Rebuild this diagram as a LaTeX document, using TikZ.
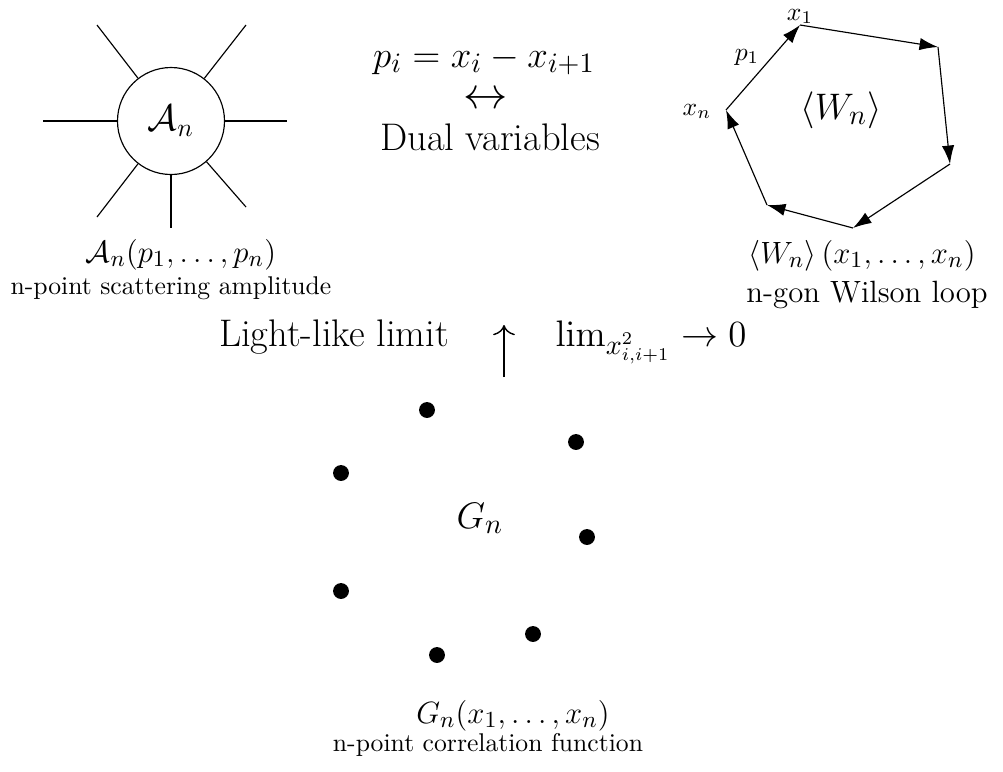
\documentclass[tikz,border=0pt]{standalone}
\usetikzlibrary{arrows.meta}
\begin{document}
\begin{tikzpicture}[x=0.39pt,y=-0.39pt,
  leg/.style={line width=0.45pt},
  wl/.style={line width=0.45pt,-{Latex[length=7.2pt,width=4.8pt]}},
  dot/.style={circle,fill=black,inner sep=0pt,minimum size=6.2pt},
  small/.style={inner sep=0pt,anchor=base,font=\normalsize},
  big/.style={inner sep=0pt,anchor=base,font=\fontsize{15}{18}\selectfont}]
\useasboundingbox (0,0) rectangle (1003,771);
% scattering amplitude blob
\node[draw,circle,minimum size=107*0.39pt,inner sep=0pt,line width=0.45pt] (A) at (171,121) {\Large$\mathcal{A}_n$};
\coordinate (l1) at (43,121);
\coordinate (l2) at (97,25);
\coordinate (l3) at (246,25);
\coordinate (l4) at (287,121);
\coordinate (l5) at (246,207);
\coordinate (l6) at (171,228);
\coordinate (l7) at (97,217);
\foreach \i in {1,...,7} \draw[leg] (A) -- (l\i);
\node[big,font=\fontsize{12.3}{15}\selectfont] (Alab) at (181,262) {$\mathcal{A}_n(p_1,\ldots,p_n)$};
\node[small] (Atxt) at (171,294) {n-point scattering amplitude};
% dual variables
\node[big] (dual1) at (484,67) {$p_i=x_i-x_{i+1}$};
\node[big,font=\fontsize{18.7}{22}\selectfont] (dual2) at (486,108) {$\leftrightarrow$};
\node[big] (dual3) at (490,150) {Dual variables};
% Wilson loop
\coordinate (w1) at (800,25);
\coordinate (w2) at (938,47);
\coordinate (w3) at (950,164);
\coordinate (w4) at (853,228);
\coordinate (w5) at (767,205);
\coordinate (w6) at (726,110);
\draw[wl] (w6) -- (w1);
\draw[wl] (w1) -- (w2);
\draw[wl] (w2) -- (w3);
\draw[wl] (w3) -- (w4);
\draw[wl] (w4) -- (w5);
\draw[wl] (w5) -- (w6);
\node[small] (x1) at (800,20) {$x_1$};
\node[small] (p1) at (747,60) {$p_1$};
\node[small] (xn) at (697,115) {$x_n$};
\node[big] (W) at (841,119) {$\langle W_n\rangle$};
\node[big,font=\fontsize{12.7}{15}\selectfont] (Wlab) at (862,263) {$\langle W_n\rangle\left(x_1,\ldots,x_n\right)$};
\node[big,font=\large] (Wtxt) at (867,302) {n-gon Wilson loop};
% light-like limit
\node[big] (LL) at (334,346) {Light-like limit};
\node[big] (lim) at (651,346) {$\lim_{x^2_{i,i+1}}\to 0$};
\coordinate (ab) at (504,377);
\coordinate (at) at (504,325);
\draw[line width=0.55pt,-{To[length=4pt,width=8.5pt]}] (ab) -- (at);
% correlation function
\node[dot] (d1) at (427,410) {};
\node[dot] (d2) at (576,442) {};
\node[dot] (d3) at (341,473) {};
\node[dot] (d4) at (587,537) {};
\node[dot] (d5) at (341,591) {};
\node[dot] (d6) at (533,634) {};
\node[dot] (d7) at (437,655) {};
\node[big] (G) at (480,528) {$G_n$};
\node[big,font=\fontsize{12.4}{15}\selectfont] (Glab) at (513,723) {$G_n(x_1,\ldots,x_n)$};
\node[small] (Gtxt) at (488,751) {n-point correlation function};
\end{tikzpicture}
\end{document}
